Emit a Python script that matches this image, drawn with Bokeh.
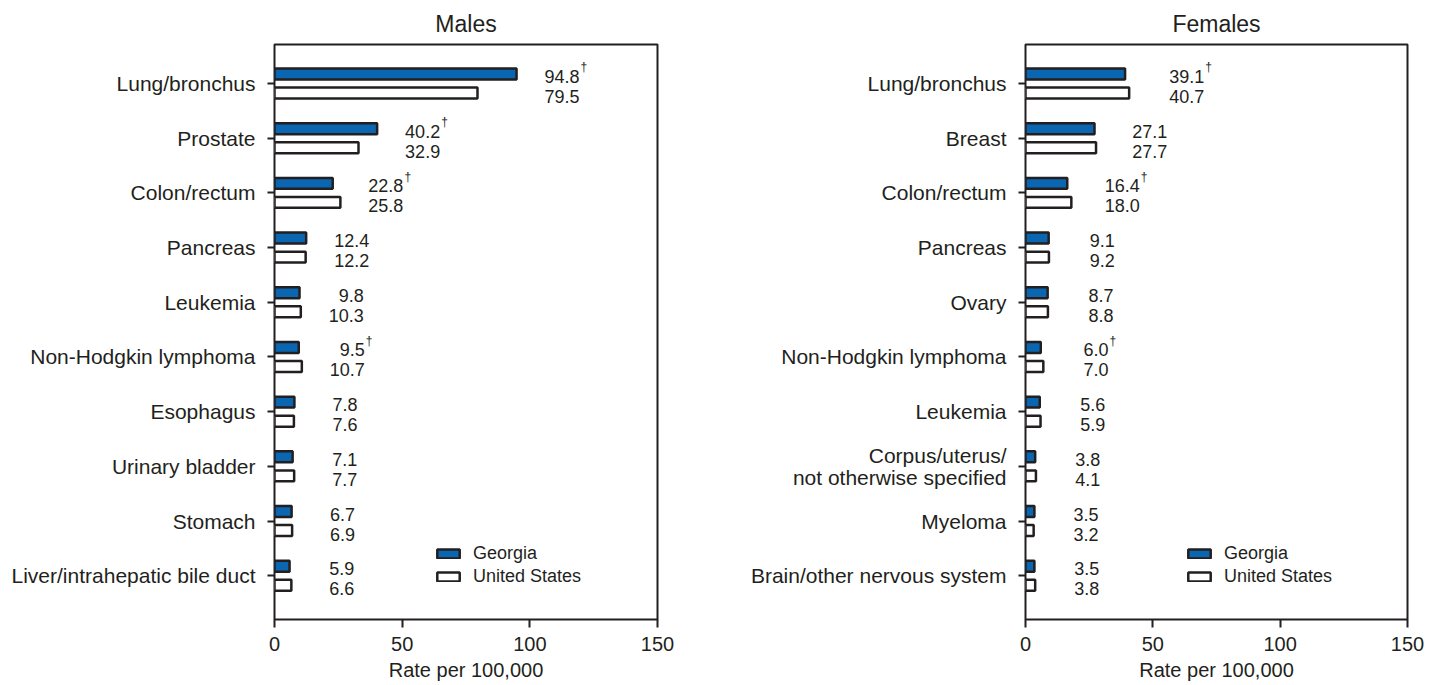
from bokeh.plotting import figure
from bokeh.models import Range1d, FixedTicker, Legend, LegendItem, ColumnDataSource
from bokeh.layouts import row
from bokeh.embed import file_html
from bokeh.resources import INLINE
from bokeh.core.properties import value

FONT = "Liberation Sans"
TXT = "#231F20"
BLUE = "#0A66B0"

male_sites = ["Lung/bronchus", "Prostate", "Colon/rectum", "Pancreas", "Leukemia",
              "Non-Hodgkin lymphoma", "Esophagus", "Urinary bladder", "Stomach",
              "Liver/intrahepatic bile duct"]
male_georgia = [94.8, 40.2, 22.8, 12.4, 9.8, 9.5, 7.8, 7.1, 6.7, 5.9]
male_us = [79.5, 32.9, 25.8, 12.2, 10.3, 10.7, 7.6, 7.7, 6.9, 6.6]
male_sig = [True, True, True, False, False, True, False, False, False, False]

female_sites = ["Lung/bronchus", "Breast", "Colon/rectum", "Pancreas", "Ovary",
                "Non-Hodgkin lymphoma", "Leukemia", "Corpus/uterus/\nnot otherwise specified",
                "Myeloma", "Brain/other nervous system"]
female_georgia = [39.1, 27.1, 16.4, 9.1, 8.7, 6.0, 5.6, 3.8, 3.5, 3.5]
female_us = [40.7, 27.7, 18.0, 9.2, 8.8, 7.0, 5.9, 4.1, 3.2, 3.8]
female_sig = [True, False, True, False, False, True, False, False, False, False]

x_ticks = [0, 50, 100, 150]


def make_panel(title, sites, ga, us, sig, frame_w, min_left, min_right, gain):
    n = len(sites)
    idx = list(range(n))
    p = figure(frame_width=frame_w, frame_height=575, x_range=Range1d(0, 150),
               y_range=Range1d(n - 0.2, -0.713), output_backend="svg",
               toolbar_location=None, min_border_left=min_left,
               min_border_right=min_right, min_border_top=44, min_border_bottom=40)
    mx = [max(a, b) for a, b in zip(ga, us)]
    src = ColumnDataSource(dict(
        y_ga=[i - 0.174 for i in idx], y_us=[i + 0.174 for i in idx],
        ga=ga, us=us, mx=mx, yi=idx,
        ga_txt=["%.1f" % v for v in ga], us_txt=["%.1f" % v for v in us],
        off=[63 + gain * m for m in mx],
    ))
    r_ga = p.hbar(y="y_ga", left=0, right="ga", height=0.2, fill_color=BLUE,
                  line_color=TXT, line_width=2.5, source=src)
    r_us = p.hbar(y="y_us", left=0, right="us", height=0.2, fill_color="white",
                  line_color=TXT, line_width=2.5, source=src)
    p.text(x="mx", y="yi", text="ga_txt", x_offset="off", y_offset=-7,
           text_align="right", text_baseline="middle", text_font=value(FONT),
           text_font_size="18px", text_color=TXT, source=src)
    p.text(x="mx", y="yi", text="us_txt", x_offset="off", y_offset=13,
           text_align="right", text_baseline="middle", text_font=value(FONT),
           text_font_size="18px", text_color=TXT, source=src)
    dsrc = ColumnDataSource(dict(
        x=[m for m, s in zip(mx, sig) if s], y=[i for i, s in zip(idx, sig) if s],
        off=[63 + gain * m + 1 for m, s in zip(mx, sig) if s],
        t=["\u2020" for s in sig if s]))
    p.text(x="x", y="y", text="t", x_offset="off", y_offset=-16,
           text_align="left", text_baseline="middle", text_font=value(FONT),
           text_font_size="12px", text_color=TXT, source=dsrc)

    p.title.text = title
    p.title.align = "center"
    p.title.text_font = FONT
    p.title.text_font_size = "23px"
    p.title.text_font_style = "normal"
    p.title.text_color = TXT
    p.title.standoff = 16

    p.grid.visible = False
    p.outline_line_color = TXT
    p.outline_line_width = 2
    p.outline_line_alpha = 1

    xa = p.xaxis[0]
    xa.ticker = FixedTicker(ticks=x_ticks)
    xa.axis_label = "Rate per 100,000"
    xa.axis_label_text_font = FONT
    xa.axis_label_text_font_size = "20px"
    xa.axis_label_text_font_style = "normal"
    xa.axis_label_text_color = TXT
    xa.axis_label_standoff = 5
    xa.major_label_text_font = FONT
    xa.major_label_text_font_size = "20px"
    xa.major_label_text_color = TXT
    xa.major_label_standoff = 9
    xa.axis_line_color = None
    xa.major_tick_in = 0
    xa.major_tick_out = 8
    xa.major_tick_line_width = 2
    xa.major_tick_line_color = TXT
    xa.minor_tick_line_color = None

    ya = p.yaxis[0]
    ya.ticker = FixedTicker(ticks=idx)
    ya.major_label_overrides = {i: s for i, s in enumerate(sites)}
    ya.major_label_text_font = FONT
    ya.major_label_text_font_size = "21px"
    ya.major_label_text_color = TXT
    ya.major_label_text_line_height = 0.95
    ya.major_label_standoff = 12
    ya.axis_line_color = None
    ya.major_tick_in = 0
    ya.major_tick_out = 7
    ya.major_tick_line_width = 2
    ya.major_tick_line_color = TXT
    ya.minor_tick_line_color = None

    legend = Legend(items=[LegendItem(label="Georgia", renderers=[r_ga]),
                           LegendItem(label="United States", renderers=[r_us])],
                    location=(160, 32), glyph_width=28, glyph_height=11,
                    label_text_font=FONT, label_text_font_size="18px",
                    label_text_color=TXT, label_standoff=11, label_height=20,
                    spacing=2, padding=0, margin=0,
                    background_fill_alpha=0, border_line_alpha=0)
    p.add_layout(legend)
    return p


p1 = make_panel("Males", male_sites, male_georgia, male_us, male_sig, 383, 274, 42, 0.0)
p2 = make_panel("Females", female_sites, female_georgia, female_us, female_sig, 382, 326, 30, 0.3)

layout = row(p1, p2)
open("out.html", "w").write(file_html(layout, INLINE))
